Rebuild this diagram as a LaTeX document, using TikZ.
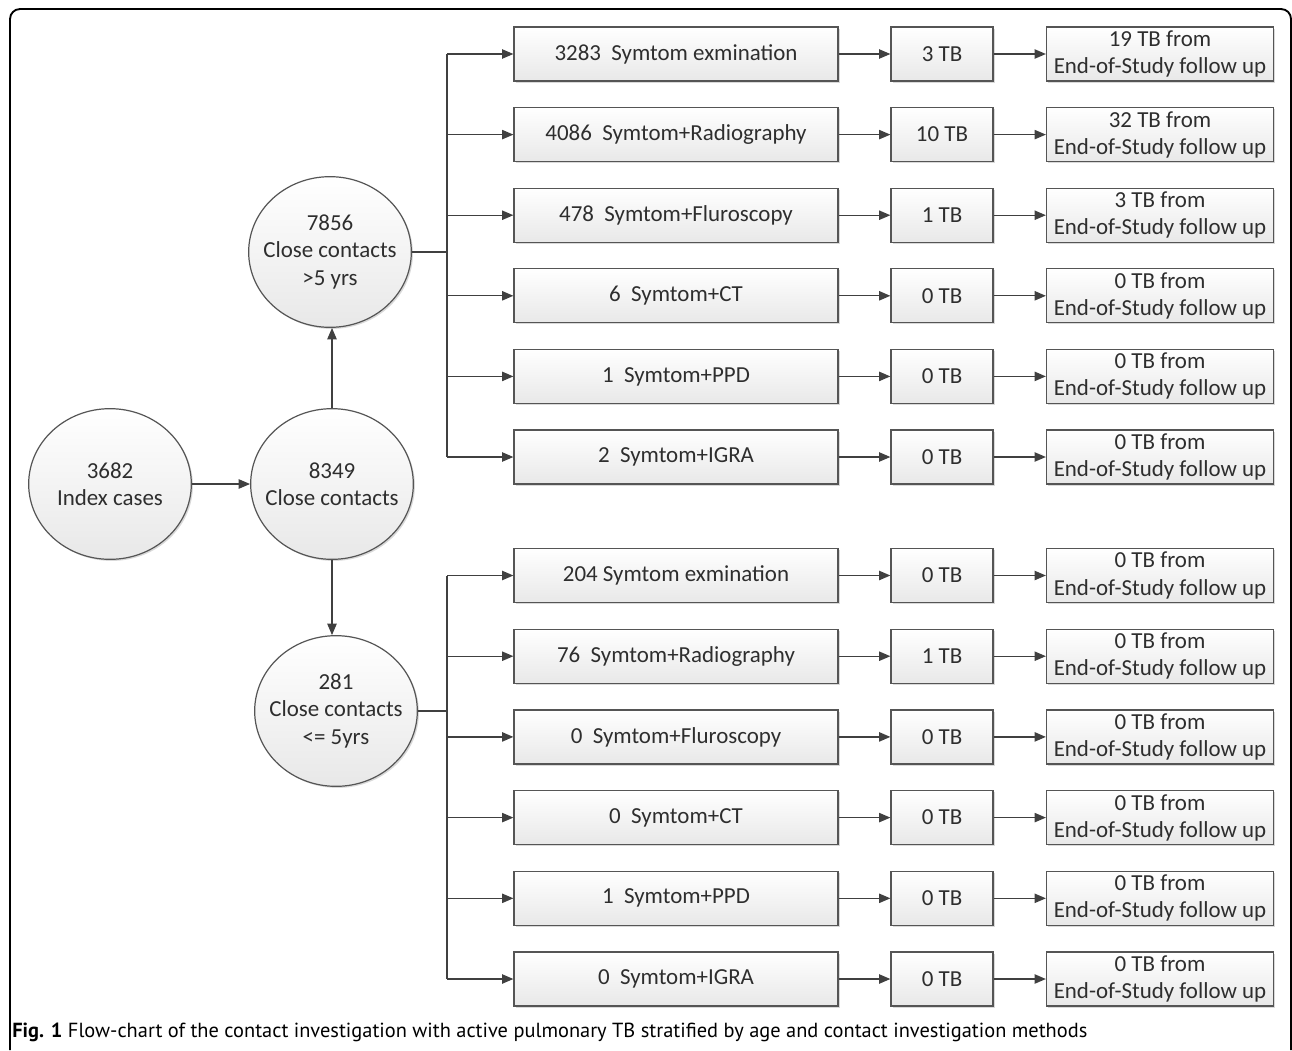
\documentclass[tikz,border=0pt]{standalone}
\usepackage{fontspec}
\setmainfont{Carlito}
\newfontfamily\capfont{PT Sans}
\usetikzlibrary{shapes.geometric,arrows.meta,shadows}
\definecolor{edge}{HTML}{555555}
\definecolor{lin}{HTML}{404040}
\tikzset{
  base/.style={draw=edge, line width=0.9pt, top color=white, bottom color=black!9,
    font=\fontsize{17.2pt}{20.3pt}\selectfont, text=black!82, align=center, inner sep=0pt,
    drop shadow={shadow xshift=1.2pt, shadow yshift=-1.2pt, opacity=0.25, fill=black!60}},
  methbox/.style={base, rectangle, minimum width=243pt, minimum height=40.5pt},
  tbbox/.style={base, rectangle, minimum width=76.5pt, minimum height=40.5pt},
  fubox/.style={base, rectangle, minimum width=170.25pt, minimum height=40.5pt},
  blob/.style={base, ellipse, inner xsep=-16pt, inner ysep=0pt, minimum width=122pt, minimum height=113pt},
  conn/.style={draw=lin, line width=1pt},
  arr/.style={conn, -{Triangle[length=8.5pt,width=7pt]}},
}
\begin{document}
\begin{tikzpicture}[x=0.75pt,y=-0.75pt]
\useasboundingbox (0,0) rectangle (1292,1050);
\draw[line width=1.4pt, rounded corners=7.5pt] (10,1050) -- (10,9) -- (1291,9) -- (1291,1050);

\node[blob] (ic) at (110,484) {3682\\Index cases};
\node[blob] (cc) at (332,484) {8349\\Close contacts};
\node[blob] (old) at (330,252) {7856\\Close contacts\\>5 yrs};
\node[blob] (yng) at (336,711) {281\\Close contacts\\<= 5yrs};

\draw[arr] (ic) -- (cc);
\draw[arr] (cc.north) -- (cc.north |- old.south);
\draw[arr] (cc.south) -- (cc.south |- yng.north);

% top group
\foreach \i/\m/\t/\f in {1/{3283\ \ Symtom exmination}/3/19, 2/{4086\ \ Symtom+Radiography}/10/32, 3/{478\ \ Symtom+Fluroscopy}/1/3, 4/{6\ \ Symtom+CT}/0/0, 5/{1\ \ Symtom+PPD}/0/0, 6/{2\ \ Symtom+IGRA}/0/0}{
  \pgfmathsetmacro\yy{54+80.6*(\i-1)}
  \node[methbox] (a\i) at (676,\yy) {\m};
  \node[tbbox] (b\i) at (942,\yy) {\t\ TB};
  \node[fubox] (c\i) at (1160,\yy) {\f\ TB from\\End-of-Study follow up};
  \draw[arr] (a\i) -- (b\i);
  \draw[arr] (b\i) -- (c\i);
}
\coordinate (ta) at (447,252);
\draw[conn] (old.east) -- (ta);
\draw[conn] (ta |- a1.west) -- (ta |- a6.west);
\foreach \i in {1,...,6}{\draw[arr] (ta |- a\i.west) -- (a\i.west);}

% bottom group
\foreach \i/\m/\t in {1/{204 Symtom exmination}/0, 2/{76\ \ Symtom+Radiography}/1, 3/{0\ \ Symtom+Fluroscopy}/0, 4/{0\ \ Symtom+CT}/0, 5/{1\ \ Symtom+PPD}/0, 6/{0\ \ Symtom+IGRA}/0}{
  \pgfmathsetmacro\yy{575.5+80.7*(\i-1)}
  \node[methbox] (d\i) at (676,\yy) {\m};
  \node[tbbox] (e\i) at (942,\yy) {\t\ TB};
  \node[fubox] (f\i) at (1160,\yy) {0 TB from\\End-of-Study follow up};
  \draw[arr] (d\i) -- (e\i);
  \draw[arr] (e\i) -- (f\i);
}
\coordinate (tb) at (447,711);
\draw[conn] (yng.east) -- (tb);
\draw[conn] (tb |- d1.west) -- (tb |- d6.west);
\foreach \i in {1,...,6}{\draw[arr] (tb |- d\i.west) -- (d\i.west);}

\node[anchor=west, inner sep=0pt, font=\capfont\fontsize{15.3pt}{17pt}\selectfont] (cap) at (12,1032)
  {\textbf{Fig. 1} Flow-chart of the contact investigation with active pulmonary TB stratified by age and contact investigation methods};
\end{tikzpicture}
\end{document}
